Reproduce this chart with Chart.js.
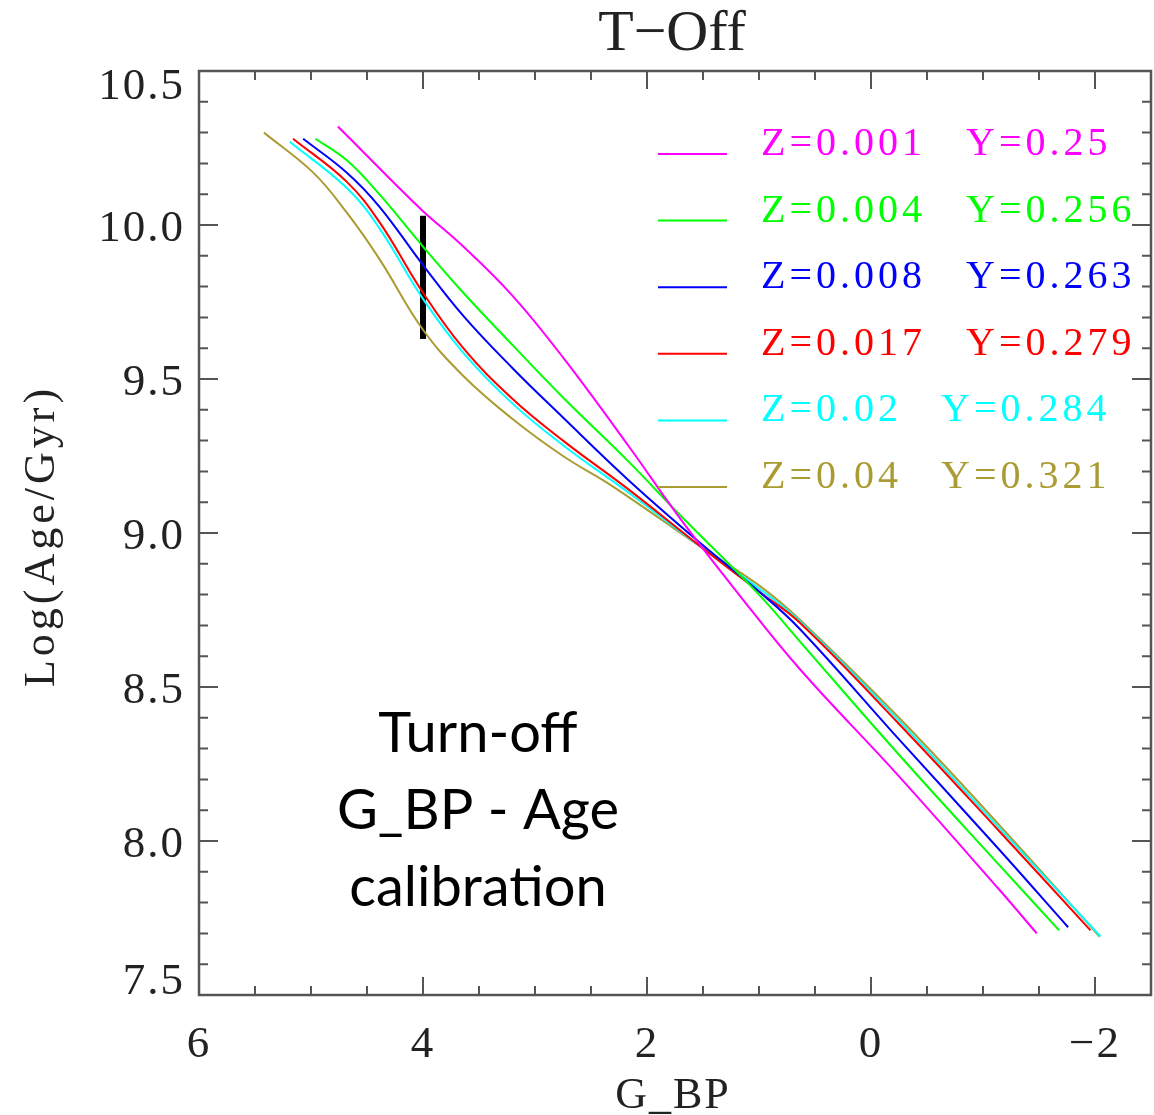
<!DOCTYPE html>
<html>
<head>
<meta charset="utf-8">
<title>T-Off</title>
<script src="https://cdn.jsdelivr.net/npm/chart.js@4.4.1/dist/chart.umd.min.js"></script>
<style>
  html, body { margin: 0; padding: 0; background: #fff; }
  #wrap { width: 1154px; height: 1115px; position: relative; }
</style>
</head>
<body>
<div id="wrap"><canvas id="grafica"></canvas></div>
<script>
// datos (G_BP vs Log edad en el turn-off)
const z001X = [4.76, 4.50, 4.24, 4.00, 3.64, 3.20, 2.75, 2.16, 1.71, 1.20, 0.64, -0.25, -1.15, -1.48];
const z001Y = [10.32, 10.225, 10.13, 10.045, 9.93, 9.77, 9.57, 9.28, 9.05, 8.81, 8.56, 8.21, 7.84, 7.70];

const z004X = [4.96, 4.68, 4.39, 4.00, 3.64, 3.20, 2.75, 2.16, 1.71, 1.00, 0.64, -0.25, -1.15, -1.68];
const z004Y = [10.28, 10.21, 10.10, 9.93, 9.78, 9.61, 9.44, 9.23, 9.06, 8.80, 8.65, 8.28, 7.92, 7.71];

const z008X = [5.07, 4.68, 4.39, 4.00, 3.64, 3.20, 2.75, 2.16, 1.50, 1.00, 0.64, -0.25, -1.15, -1.76];
const z008Y = [10.28, 10.17, 10.06, 9.87, 9.705, 9.535, 9.375, 9.17, 8.96, 8.81, 8.69, 8.33, 7.97, 7.72];

const z017X = [5.16, 4.68, 4.39, 4.00, 3.64, 3.20, 2.75, 2.16, 1.50, 1.00, 0.64, -0.25, -1.15, -1.96];
const z017Y = [10.28, 10.14, 10.01, 9.78, 9.60, 9.435, 9.30, 9.14, 8.95, 8.81, 8.71, 8.38, 8.03, 7.71];

const z020X = [5.19, 4.68, 4.39, 4.00, 3.64, 3.20, 2.75, 2.16, 1.50, 1.00, 0.64, -0.25, -1.15, -2.05];
const z020Y = [10.27, 10.12, 9.99, 9.76, 9.585, 9.42, 9.285, 9.13, 8.95, 8.82, 8.715, 8.39, 8.04, 7.69];

const z040X = [5.42, 4.98, 4.68, 4.39, 4.00, 3.64, 3.20, 2.75, 2.30, 1.50, 1.00, 0.64, -0.25, -1.15, -2.04];
const z040Y = [10.30, 10.17, 10.04, 9.89, 9.66, 9.51, 9.37, 9.25, 9.15, 8.95, 8.83, 8.72, 8.40, 8.05, 7.69];

// barra negra en G_BP = 4
const barraX = [4, 4];
const barraY = [9.63, 10.03];

const etiquetasZ = ['Z=0.001', 'Z=0.004', 'Z=0.008', 'Z=0.017', 'Z=0.02', 'Z=0.04'];
const etiquetasY = ['Y=0.25', 'Y=0.256', 'Y=0.263', 'Y=0.279', 'Y=0.284', 'Y=0.321'];
const colores = ['#ff00ff', '#00ff00', '#0000ff', '#ff0000', '#00ffff', '#aa9c33'];

const xTicks = [6, 4, 2, 0, -2];
const xTickLabels = ['6', '4', '2', '0', '\u22122'];
const yTicks = [10.5, 10.0, 9.5, 9.0, 8.5, 8.0, 7.5];
const yTickLabels = ['10.5', '10.0', '9.5', '9.0', '8.5', '8.0', '7.5'];

const titulo = 'T\u2212Off';
const tituloX = 'G_BP';
const tituloY = 'Log(Age/Gyr)';
const nota = ['Turn-off', 'G_BP - Age', 'calibration'];

function puntos(xs, ys) {
    return xs.map((x, i) => ({ x: x, y: ys[i] }));
}

const series = [[z001X, z001Y], [z004X, z004Y], [z008X, z008Y], [z017X, z017Y], [z020X, z020Y], [z040X, z040Y]];

const datasets = series.map((s, i) => ({
    label: etiquetasZ[i],
    data: puntos(s[0], s[1]),
    showLine: true,
    borderColor: colores[i],
    borderWidth: 2,
    pointRadius: 0,
    tension: 0.4,
    fill: false
}));

datasets.push({
    label: 'barra',
    data: puntos(barraX, barraY),
    showLine: true,
    borderColor: '#000',
    borderWidth: 6,
    borderCapStyle: 'butt',
    pointRadius: 0
});

const serif = '"Liberation Serif", "DejaVu Serif", serif';
const ejeColor = '#555';

// marco estilo IDL con ticks hacia dentro, etiquetas, leyenda y texto
const marcoPlugin = {
    id: 'marco',
    afterDatasetsDraw(chart) {
        const ctx = chart.ctx;
        const a = chart.chartArea;
        const sx = chart.scales.x;
        const sy = chart.scales.y;
        ctx.save();

        ctx.strokeStyle = ejeColor;
        ctx.lineWidth = 2.5;
        ctx.strokeRect(a.left, a.top, a.right - a.left, a.bottom - a.top);

        ctx.lineWidth = 2;
        ctx.beginPath();
        // ticks eje x (cada 0.5, mayores cada 2)
        for (let v = -2.5; v <= 6.001; v += 0.5) {
            const px = sx.getPixelForValue(v);
            const mayor = Math.abs(v / 2 - Math.round(v / 2)) < 1e-6;
            const L = mayor ? 18 : 9;
            ctx.moveTo(px, a.bottom); ctx.lineTo(px, a.bottom - L);
            ctx.moveTo(px, a.top); ctx.lineTo(px, a.top + L);
        }
        // ticks eje y (cada 0.1, mayores cada 0.5)
        for (let k = 75; k <= 105; k++) {
            const v = k / 10;
            const py = sy.getPixelForValue(v);
            const L = (k % 5 === 0) ? 19 : 9;
            ctx.moveTo(a.left, py); ctx.lineTo(a.left + L, py);
            ctx.moveTo(a.right, py); ctx.lineTo(a.right - L, py);
        }
        ctx.stroke();

        // etiquetas de ticks
        ctx.fillStyle = '#222';
        ctx.font = '45px ' + serif;
        ctx.letterSpacing = '2px';
        ctx.textAlign = 'center';
        ctx.textBaseline = 'alphabetic';
        xTicks.forEach((v, i) => {
            ctx.fillText(xTickLabels[i], sx.getPixelForValue(v), a.bottom + 62);
        });
        ctx.textAlign = 'right';
        ctx.textBaseline = 'middle';
        yTicks.forEach((v, i) => {
            let py = sy.getPixelForValue(v) + 4;
            if (i === 0) py = a.top + 16;
            if (i === yTicks.length - 1) py = a.bottom - 13;
            ctx.fillText(yTickLabels[i], a.left - 14, py);
        });

        // titulos
        ctx.letterSpacing = '0px';
        ctx.textAlign = 'center';
        ctx.textBaseline = 'alphabetic';
        ctx.font = '58px ' + serif;
        ctx.fillText(titulo, 672, 50);
        ctx.font = '44px ' + serif;
        ctx.letterSpacing = '2px';
        ctx.fillText(tituloX, 673, 1108);
        ctx.save();
        ctx.translate(42, 536);
        ctx.rotate(-Math.PI / 2);
        ctx.letterSpacing = '4px';
        ctx.textBaseline = 'middle';
        ctx.fillText(tituloY, 0, 0);
        ctx.restore();

        // leyenda
        ctx.font = '40px ' + serif;
        ctx.letterSpacing = '4px';
        ctx.textAlign = 'left';
        ctx.textBaseline = 'alphabetic';
        for (let i = 0; i < etiquetasZ.length; i++) {
            const y = 154 + i * 66.6;
            ctx.strokeStyle = colores[i];
            ctx.lineWidth = 2;
            ctx.beginPath();
            ctx.moveTo(658, y); ctx.lineTo(727, y);
            ctx.stroke();
            ctx.fillStyle = colores[i];
            ctx.fillText(etiquetasZ[i], 761, y + 1);
            ctx.fillText(etiquetasY[i], i >= 4 ? 941 : 966, y + 1);
        }

        // texto anotado
        ctx.letterSpacing = '0px';
        ctx.fillStyle = '#000';
        ctx.font = '56px Lato, "Open Sans", sans-serif';
        ctx.textAlign = 'center';
        nota.forEach((t, i) => ctx.fillText(t, 478, 752 + i * 77));

        ctx.restore();
    }
};

new Chart(document.getElementById('grafica'), {
    type: 'scatter',
    data: { datasets: datasets },
    options: {
        responsive: true,
        maintainAspectRatio: false,
        animation: false,
        layout: { padding: { left: 199, right: 3, top: 71, bottom: 120 } },
        plugins: {
            legend: { display: false },
            tooltip: { enabled: false },
            title: { display: false }
        },
        scales: {
            x: {
                type: 'linear',
                min: -2.5,
                max: 6,
                reverse: true,
                grid: { display: false, drawTicks: false },
                border: { display: false },
                ticks: { display: false },
                afterFit: s => { s.height = 0; }
            },
            y: {
                type: 'linear',
                min: 7.5,
                max: 10.5,
                grid: { display: false, drawTicks: false },
                border: { display: false },
                ticks: { display: false },
                afterFit: s => { s.width = 0; }
            }
        }
    },
    plugins: [marcoPlugin]
});
</script>
</body>
</html>
